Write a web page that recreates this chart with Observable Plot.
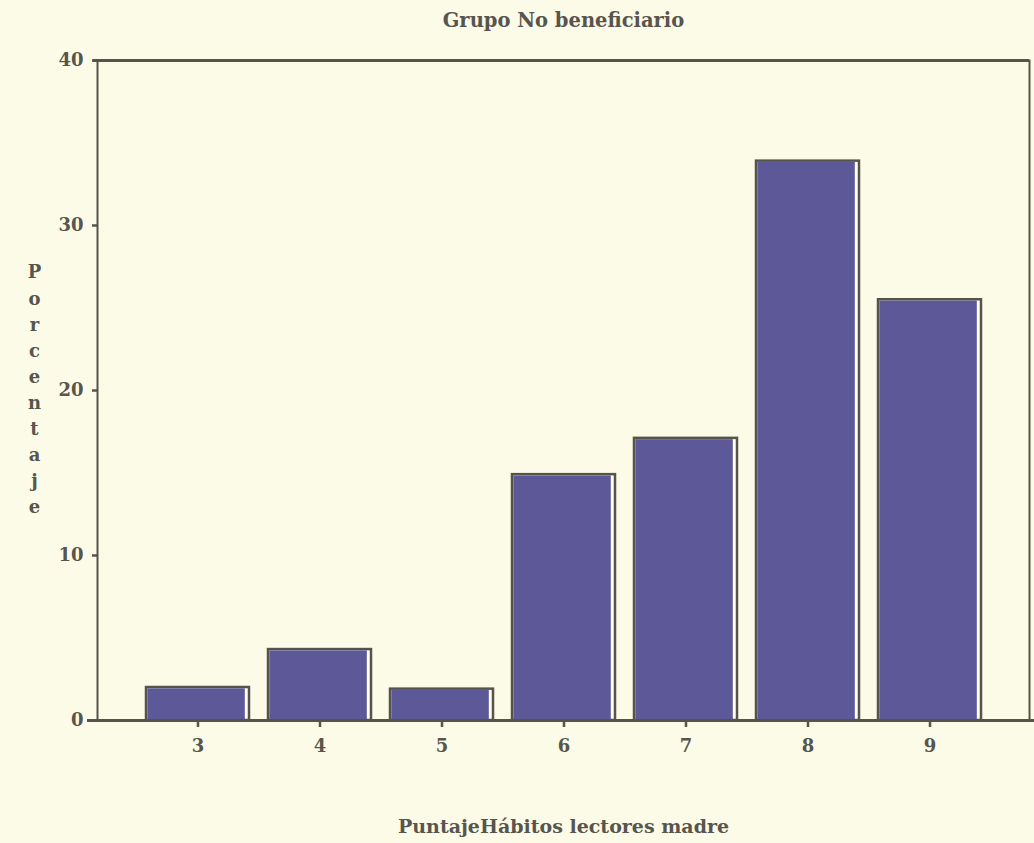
<!DOCTYPE html>
<html>
<head>
<meta charset="utf-8">
<script src="https://cdn.jsdelivr.net/npm/d3@7"></script>
<script src="https://cdn.jsdelivr.net/npm/@observablehq/plot@0.6"></script>
<style>
  html, body { margin: 0; padding: 0; background: #fcfbe7; }
  #chart svg { display: block; }
</style>
</head>
<body>
<div id="chart"></div>
<script>
// Data
const scores = ["3", "4", "5", "6", "7", "8", "9"];
const percentages = [2.0, 4.3, 1.9, 14.9, 17.1, 33.9, 25.5];
const yTicks = [0, 10, 20, 30, 40];
const title = "Grupo No beneficiario";
const xLabel = "PuntajeHábitos lectores madre";
const yLabel = "Porcentaje";

const data = scores.map((s, i) => ({score: s, pct: percentages[i]}));

const ink = "#55534b";
const textInk = "#57554d";
const purple = "#5d5999";
const font = "'DejaVu Serif', 'Liberation Serif', serif";

const chart = Plot.plot({
  width: 1034,
  height: 843,
  marginLeft: 97,
  marginRight: 5,
  marginTop: 60,
  marginBottom: 123,
  style: {
    background: "#fcfbe7",
    fontFamily: font,
    fontSize: "18px",
    fontWeight: "bold",
    color: textInk
  },
  x: {
    type: "band",
    domain: scores,
    paddingInner: 0.156,
    paddingOuter: 0.38
  },
  y: {domain: [0, 40]},
  marks: [
    Plot.barY(data, {x: "score", y: "pct", fill: "#fffff4", stroke: ink, strokeWidth: 2.5}),
    Plot.barY(data, {x: "score", y: "pct", fill: purple, insetRight: 4.2, insetLeft: 1.3, insetTop: 1.3, insetBottom: 0}),
    Plot.frame({stroke: ink, strokeWidth: 2}),
    Plot.ruleY([40], {stroke: ink, strokeWidth: 3, insetLeft: -4}),
    Plot.ruleY([0], {stroke: ink, strokeWidth: 3, insetLeft: -10, insetRight: -5}),
    Plot.axisY({ticks: yTicks, tickSize: 5, tickPadding: 9, strokeWidth: 2.5, stroke: ink, label: null, fill: textInk, fontSize: 18}),
    Plot.axisX({tickSize: 7, tickPadding: 12, strokeWidth: 2.5, stroke: ink, label: null, fill: textInk, fontSize: 18}),
    Plot.text([title], {frameAnchor: "top", lineAnchor: "middle", dy: -40, fill: textInk, fontSize: 19.5, fontWeight: "bold"}),
    Plot.text([xLabel], {frameAnchor: "bottom", lineAnchor: "middle", dy: 106, fill: textInk, fontSize: 19, fontWeight: "bold"}),
    Plot.text([yLabel.split("").join("\n")], {frameAnchor: "left", lineAnchor: "middle", textAnchor: "middle", dx: -63, dy: -3, lineHeight: 1.45, fill: textInk, fontSize: 18, fontWeight: "bold"})
  ]
});

document.getElementById("chart").appendChild(chart);
</script>
</body>
</html>
